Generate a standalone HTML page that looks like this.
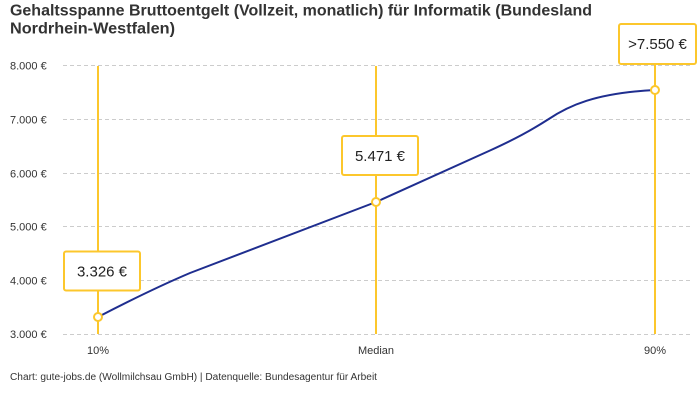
<!DOCTYPE html>
<html><head><meta charset="utf-8"><style>
html,body{margin:0;padding:0;background:#fff;}
svg{display:block;}
text{font-family:"Liberation Sans",sans-serif;}
</style></head><body>
<svg width="700" height="400" viewBox="0 0 700 400" xmlns="http://www.w3.org/2000/svg">
<rect width="700" height="400" fill="#fff"/>
<text x="10" y="15.5" font-size="16" font-weight="bold" fill="#333" textLength="582" lengthAdjust="spacingAndGlyphs">Gehaltsspanne Bruttoentgelt (Vollzeit, monatlich) für Informatik (Bundesland</text>
<text x="10" y="33.5" font-size="16" font-weight="bold" fill="#333" textLength="165" lengthAdjust="spacingAndGlyphs">Nordrhein-Westfalen)</text>
<g stroke="#cccccc" stroke-width="1" stroke-dasharray="4,3">
<line x1="63" y1="65.5" x2="690" y2="65.5"/>
<line x1="63" y1="119.5" x2="690" y2="119.5"/>
<line x1="63" y1="173.5" x2="690" y2="173.5"/>
<line x1="63" y1="226.5" x2="690" y2="226.5"/>
<line x1="63" y1="280.5" x2="690" y2="280.5"/>
<line x1="63" y1="334.5" x2="690" y2="334.5"/>
</g>
<g font-size="11" fill="#333">
<text x="10" y="69.5">8.000 €</text>
<text x="10" y="123.5">7.000 €</text>
<text x="10" y="177.5">6.000 €</text>
<text x="10" y="230.5">5.000 €</text>
<text x="10" y="284.5">4.000 €</text>
<text x="10" y="338">3.000 €</text>
</g>
<g font-size="11" fill="#333" text-anchor="middle">
<text x="98" y="354">10%</text>
<text x="376" y="354">Median</text>
<text x="655" y="354">90%</text>
</g>
<g stroke="#fcc72c" stroke-width="2">
<line x1="98" y1="66" x2="98" y2="334"/>
<line x1="376" y1="66" x2="376" y2="334"/>
<line x1="655" y1="64" x2="655" y2="334"/>
</g>
<path d="M98,317 Q150,290 190,273 L376,202 L490,150.5 C515,139 530,131 548,119.5 C568,106 595,93 655,90" fill="none" stroke="#1f2e8f" stroke-width="2"/>
<g fill="#fff" stroke="#fcc72c" stroke-width="2">
<circle cx="98" cy="317" r="4"/>
<circle cx="376" cy="202" r="4"/>
<circle cx="655" cy="90" r="4"/>
<rect x="64" y="251.5" width="76" height="39" rx="2"/>
<rect x="342" y="136" width="76" height="39" rx="2"/>
<rect x="619" y="24" width="77" height="40" rx="2"/>
</g>
<g font-size="15" fill="#222" text-anchor="middle">
<text x="102" y="276.5">3.326 €</text>
<text x="380" y="161">5.471 €</text>
<text x="657.5" y="49">&gt;7.550 €</text>
</g>
<text x="10" y="380" font-size="10" fill="#333" textLength="367" lengthAdjust="spacingAndGlyphs">Chart: gute-jobs.de (Wollmilchsau GmbH) | Datenquelle: Bundesagentur für Arbeit</text>
</svg>
</body></html>
